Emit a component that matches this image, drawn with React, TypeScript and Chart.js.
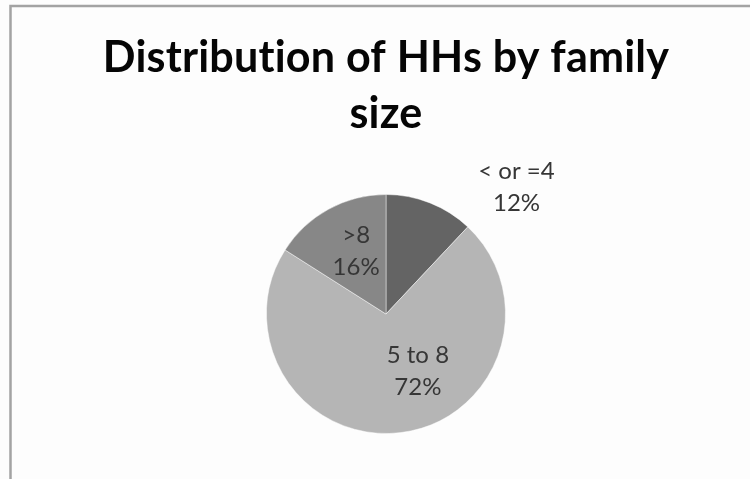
import React, { useEffect, useRef } from "react";
import { Chart, registerables } from "chart.js";

Chart.register(...registerables);

const categories: string[] = ["< or =4", "5 to 8", ">8"];
const shares: number[] = [12, 72, 16];
const sliceColors: string[] = ["#646464", "#b5b5b5", "#878787"];
const titleLines: string[] = ["Distribution of HHs by family", "size"];

// label anchors relative to pie centre, in units of the pie radius
const labelOffsets: [number, number][] = [
  [1.092, -1.058],
  [0.267, 0.479],
  [-0.25, -0.525],
];

const framePlugin = {
  id: "frame",
  beforeDraw(chart: any) {
    const ctx = chart.ctx;
    ctx.save();
    ctx.fillStyle = "#fdfdfd";
    ctx.fillRect(0, 0, chart.width, chart.height);
    ctx.strokeStyle = "#a3a3a3";
    ctx.lineWidth = 2.5;
    ctx.beginPath();
    ctx.moveTo(10.5, chart.height + 5);
    ctx.lineTo(10.5, 6);
    ctx.lineTo(chart.width + 5, 6);
    ctx.stroke();
    ctx.restore();
  },
};

const titlePlugin = {
  id: "titleText",
  afterDraw(chart: any) {
    const ctx = chart.ctx;
    const area = chart.chartArea;
    const cx = (area.left + area.right) / 2;
    ctx.save();
    ctx.fillStyle = "#050505";
    ctx.textAlign = "center";
    ctx.textBaseline = "alphabetic";
    try { (ctx as any).letterSpacing = "0.2px"; } catch (e) {}
    let size = 40;
    ctx.font = `bold ${size}px Lato`;
    const w = ctx.measureText(titleLines[0]).width;
    size = size * (567 / w);
    ctx.font = `bold ${size}px Lato`;
    ctx.fillText(titleLines[0], cx, 72);
    ctx.fillText(titleLines[1], cx, 128);
    ctx.restore();
  },
};

const labelPlugin = {
  id: "sliceLabels",
  afterDatasetsDraw(chart: any) {
    const ctx = chart.ctx;
    const meta = chart.getDatasetMeta(0);
    const data = chart.data.datasets[0].data as number[];
    const total = data.reduce((a, b) => a + b, 0);
    ctx.save();
    ctx.fillStyle = "#363636";
    ctx.font = "24px Lato";
    ctx.textAlign = "center";
    ctx.textBaseline = "middle";
    meta.data.forEach((arc: any, i: number) => {
      const p = arc.getProps(["x", "y", "outerRadius"], true);
      const off = labelOffsets[i];
      const lx = p.x + off[0] * p.outerRadius;
      const ly = p.y + off[1] * p.outerRadius;
      const pct = Math.round((data[i] / total) * 100) + "%";
      ctx.fillText(chart.data.labels[i], lx, ly - 16);
      ctx.fillText(pct, lx, ly + 16);
    });
    ctx.restore();
  },
};

export default function App() {
  const ref = useRef<HTMLCanvasElement | null>(null);
  useEffect(() => {
    if (!ref.current) return;
    const chart = new Chart(ref.current, {
      type: "pie",
      data: {
        labels: categories,
        datasets: [
          {
            data: shares,
            backgroundColor: sliceColors,
            borderColor: "rgba(255,255,255,0.45)",
            borderWidth: 1,
          },
        ],
      },
      options: {
        responsive: false,
        animation: false,
        layout: { padding: { left: 266, right: 244, top: 194, bottom: 45 } },
        plugins: {
          legend: { display: false },
          tooltip: { enabled: false },
          title: { display: false },
        },
      },
      plugins: [framePlugin, titlePlugin, labelPlugin],
    });
    return () => chart.destroy();
  }, []);
  return (
    <div style={{ position: "fixed", left: 0, top: 0, width: 750, height: 479 }}>
      <canvas ref={ref} width={750} height={479} style={{ width: 750, height: 479 }} />
    </div>
  );
}
